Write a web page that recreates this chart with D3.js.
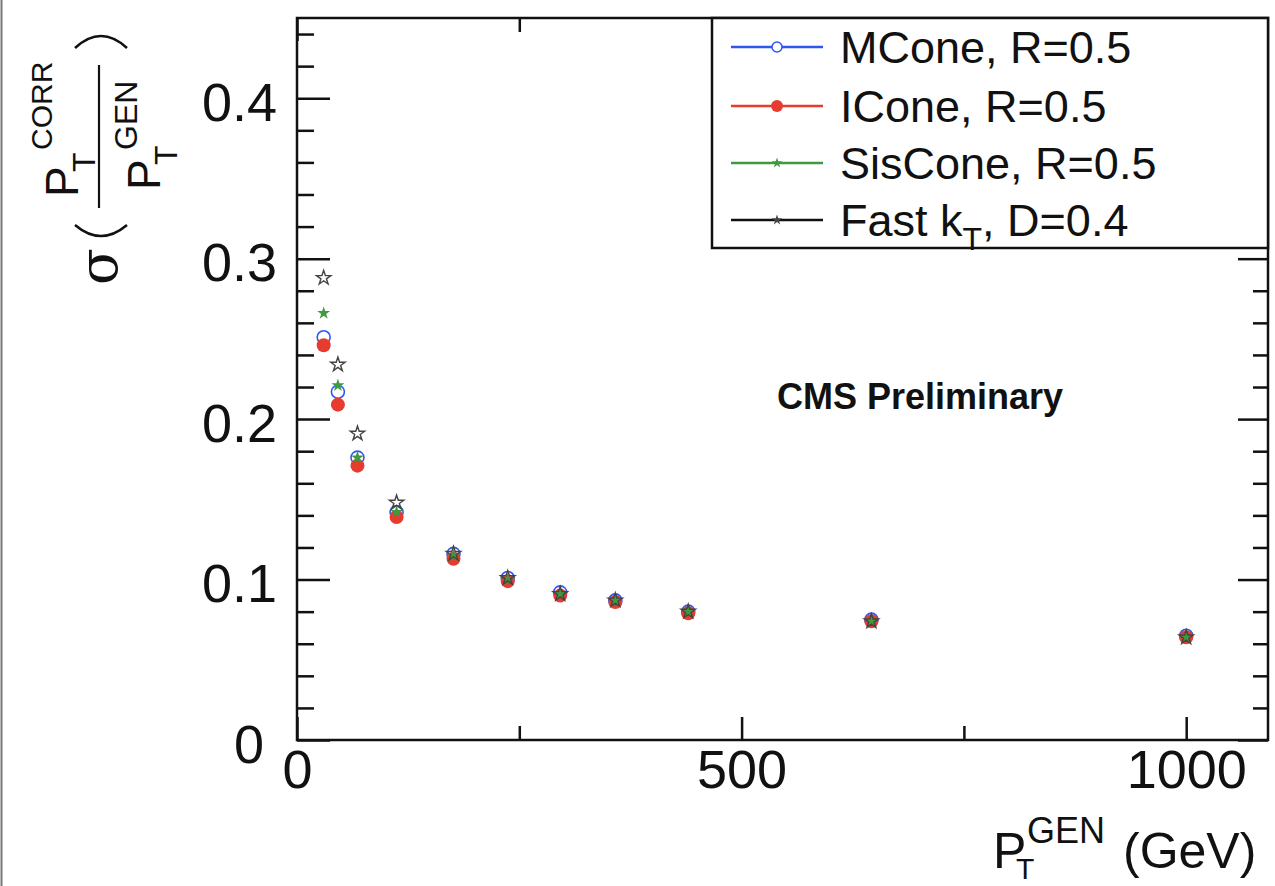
<!DOCTYPE html>
<html>
<head>
<meta charset="utf-8">
<script src="https://cdn.jsdelivr.net/npm/d3@7"></script>
<style>
  body { margin: 0; background: #fff; }
  text { font-family: "Liberation Sans", Arial, sans-serif; fill: #111; }
</style>
</head>
<body>
<div id="plot"></div>
<script>
// Data
var ptGen   = [30, 46, 68, 112, 176, 237, 296, 358, 440, 646, 1000];
var mcone   = [0.251, 0.217, 0.176, 0.142, 0.116, 0.101, 0.092, 0.087, 0.080, 0.075, 0.065];
var icone   = [0.246, 0.209, 0.171, 0.139, 0.113, 0.099, 0.090, 0.086, 0.079, 0.074, 0.064];
var siscone = [0.266, 0.221, 0.176, 0.142, 0.115, 0.100, 0.091, 0.087, 0.080, 0.074, 0.064];
var fastkt  = [0.288, 0.234, 0.191, 0.148, 0.116, 0.101, 0.091, 0.087, 0.080, 0.074, 0.064];

var seriesNames = ["MCone, R=0.5", "ICone, R=0.5", "SisCone, R=0.5", "Fast k_T, D=0.4"];
var xMajorTicks = [0, 500, 1000];
var xMinorTicks = [250, 750];
var yMajorTicks = [0, 0.1, 0.2, 0.3, 0.4];

// SVG area
var svgWidth = 1275;
var svgHeight = 886;

var svg = d3.select("#plot")
  .append("svg")
  .attr("width", svgWidth)
  .attr("height", svgHeight);

svg.append("rect")
  .attr("width", svgWidth)
  .attr("height", svgHeight)
  .attr("fill", "#fff");

// left border of the scanned page
svg.append("line")
  .attr("x1", 1.5).attr("x2", 1.5)
  .attr("y1", 0).attr("y2", svgHeight)
  .attr("stroke", "#777")
  .attr("stroke-width", 2);

// frame edges
var frameL = 297, frameR = 1268, frameT = 18, frameB = 740;

var xScale = d3.scaleLinear().domain([0, 1092]).range([frameL, frameR]);
var yScale = d3.scaleLinear().domain([0, 0.45]).range([frameB, frameT]);

var yMinorTicks = d3.range(0, 0.45, 0.02)
  .filter(v => yMajorTicks.every(m => Math.abs(m - v) > 1e-6));

function styleAxis(g) {
  g.select(".domain").remove();
  g.selectAll(".tick line").attr("stroke", "#111").attr("stroke-width", 2.5);
}

// bottom axis
var gBottom = svg.append("g")
  .attr("transform", `translate(0, ${frameB})`)
  .call(d3.axisBottom(xScale).tickValues(xMajorTicks).tickSize(-23).tickFormat(d3.format("d")))
  .call(styleAxis);
gBottom.selectAll("text")
  .attr("y", 48).attr("dy", null)
  .style("font-size", "54px")
  .attr("fill", "#111");

svg.append("g")
  .attr("transform", `translate(0, ${frameB})`)
  .call(d3.axisBottom(xScale).tickValues(xMinorTicks).tickSize(-14).tickFormat(""))
  .call(styleAxis);

// top axis
svg.append("g")
  .attr("transform", `translate(0, ${frameT})`)
  .call(d3.axisTop(xScale).tickValues(xMajorTicks).tickSize(-23).tickFormat(""))
  .call(styleAxis);
svg.append("g")
  .attr("transform", `translate(0, ${frameT})`)
  .call(d3.axisTop(xScale).tickValues(xMinorTicks).tickSize(-14).tickFormat(""))
  .call(styleAxis);

// left axis
var gLeft = svg.append("g")
  .attr("transform", `translate(${frameL}, 0)`)
  .call(d3.axisLeft(yScale).tickValues(yMajorTicks).tickSize(-33).tickFormat(d => d === 0 ? "0" : d3.format(".1f")(d)))
  .call(styleAxis);
gLeft.selectAll("text")
  .attr("x", d => d === 0 ? -33 : -20).attr("y", 22).attr("dy", null)
  .style("font-size", "54px")
  .attr("fill", "#111");

svg.append("g")
  .attr("transform", `translate(${frameL}, 0)`)
  .call(d3.axisLeft(yScale).tickValues(yMinorTicks).tickSize(-17).tickFormat(""))
  .call(styleAxis);

// right axis
svg.append("g")
  .attr("transform", `translate(${frameR}, 0)`)
  .call(d3.axisRight(yScale).tickValues(yMajorTicks).tickSize(-30).tickFormat(""))
  .call(styleAxis);
svg.append("g")
  .attr("transform", `translate(${frameR}, 0)`)
  .call(d3.axisRight(yScale).tickValues(yMinorTicks).tickSize(-15).tickFormat(""))
  .call(styleAxis);

svg.append("rect")
  .attr("x", frameL).attr("y", frameT)
  .attr("width", frameR - frameL).attr("height", frameB - frameT)
  .attr("fill", "none")
  .attr("stroke", "#111")
  .attr("stroke-width", 2.5);

// markers
var blue = "#2f57f0", red = "#e63b2e", green = "#3d9a3d", grey = "#444";

function pts(vals) {
  return vals.map((v, i) => ({ x: ptGen[i], y: v }));
}

svg.append("g").selectAll("circle")
  .data(pts(mcone))
  .enter()
  .append("circle")
  .attr("cx", d => xScale(d.x))
  .attr("cy", d => yScale(d.y))
  .attr("r", 6.5)
  .attr("fill", "none")
  .attr("stroke", blue)
  .attr("stroke-width", 1.6);

svg.append("g").selectAll("circle")
  .data(pts(icone))
  .enter()
  .append("circle")
  .attr("cx", d => xScale(d.x))
  .attr("cy", d => yScale(d.y))
  .attr("r", 7)
  .attr("fill", red);

var starBig = d3.symbol().type(d3.symbolStar).size(64);
var starSmall = d3.symbol().type(d3.symbolStar).size(52);

svg.append("g").selectAll("path")
  .data(pts(siscone))
  .enter()
  .append("path")
  .attr("transform", d => `translate(${xScale(d.x)}, ${yScale(d.y)})`)
  .attr("d", starSmall())
  .attr("fill", green);

svg.append("g").selectAll("path")
  .data(pts(fastkt))
  .enter()
  .append("path")
  .attr("transform", d => `translate(${xScale(d.x)}, ${yScale(d.y)})`)
  .attr("d", starBig())
  .attr("fill", "none")
  .attr("stroke", grey)
  .attr("stroke-width", 1.4);

// legend
var legend = svg.append("g");
legend.append("rect")
  .attr("x", 712).attr("y", frameT)
  .attr("width", frameR - 712).attr("height", 230)
  .attr("fill", "#fff")
  .attr("stroke", "#111")
  .attr("stroke-width", 2.5);

var legendColors = [blue, red, green, "#111"];
var rowY = [47, 106, 163, 220];

seriesNames.forEach(function(name, i) {
  var cy = rowY[i];
  legend.append("line")
    .attr("x1", 731).attr("x2", 823)
    .attr("y1", cy).attr("y2", cy)
    .attr("stroke", legendColors[i])
    .attr("stroke-width", 2.5);

  if (i === 0) {
    legend.append("circle").attr("cx", 777).attr("cy", cy).attr("r", 5)
      .attr("fill", "#fff").attr("stroke", blue).attr("stroke-width", 1.5);
  } else if (i === 1) {
    legend.append("circle").attr("cx", 777).attr("cy", cy).attr("r", 6).attr("fill", red);
  } else {
    legend.append("path")
      .attr("transform", `translate(777, ${cy})`)
      .attr("d", d3.symbol().type(d3.symbolStar).size(34)())
      .attr("fill", i === 2 ? green : grey);
  }

  var t = legend.append("text")
    .attr("x", 840).attr("y", cy + 16)
    .style("font-size", "45px");
  var parts = name.split("_T");
  t.append("tspan").text(parts[0]);
  if (parts.length > 1) {
    t.append("tspan").attr("dy", 14).style("font-size", "32px").text("T");
    t.append("tspan").attr("dy", -14).text(parts[1]);
  }
});

// CMS label
svg.append("text")
  .attr("x", 777).attr("y", 409)
  .style("font-size", "36px")
  .style("font-weight", "bold")
  .text("CMS Preliminary");

// x axis title
var xTitle = svg.append("g");
xTitle.append("text").attr("x", 993).attr("y", 868).style("font-size", "50px").text("P");
xTitle.append("text").attr("x", 1027).attr("y", 843).style("font-size", "36px").text("GEN");
xTitle.append("text").attr("x", 1016).attr("y", 879).style("font-size", "30px").text("T");
xTitle.append("text").attr("x", 1123).attr("y", 868).style("font-size", "50px").text("(GeV)");

// y axis title, rotated (local x runs up the page, local y runs right)
var yTitle = svg.append("g").attr("transform", "translate(0, 740) rotate(-90)");
yTitle.append("text").attr("x", 455).attr("y", 117)
  .style("font-family", "'DejaVu Serif', serif").style("font-size", "54px").text("σ");
yTitle.append("text").attr("x", 543).attr("y", 78).style("font-size", "46px").text("P");
yTitle.append("text").attr("x", 568).attr("y", 95).style("font-size", "32px").text("T");
yTitle.append("text").attr("x", 590).attr("y", 52).style("font-size", "30px").text("CORR");
yTitle.append("line")
  .attr("x1", 532).attr("x2", 675)
  .attr("y1", 99).attr("y2", 99)
  .attr("stroke", "#111").attr("stroke-width", 2.2);
yTitle.append("text").attr("x", 550).attr("y", 160).style("font-size", "46px").text("P");
yTitle.append("text").attr("x", 575).attr("y", 177).style("font-size", "32px").text("T");
yTitle.append("text").attr("x", 590).attr("y", 137).style("font-size", "32px").text("GEN");

// big parentheses around the fraction
svg.append("path")
  .attr("d", "M75,225 Q101,247 127,225")
  .attr("fill", "none").attr("stroke", "#111").attr("stroke-width", 2.5);
svg.append("path")
  .attr("d", "M75,48 Q101,24 127,48")
  .attr("fill", "none").attr("stroke", "#111").attr("stroke-width", 2.5);
</script>
</body>
</html>
